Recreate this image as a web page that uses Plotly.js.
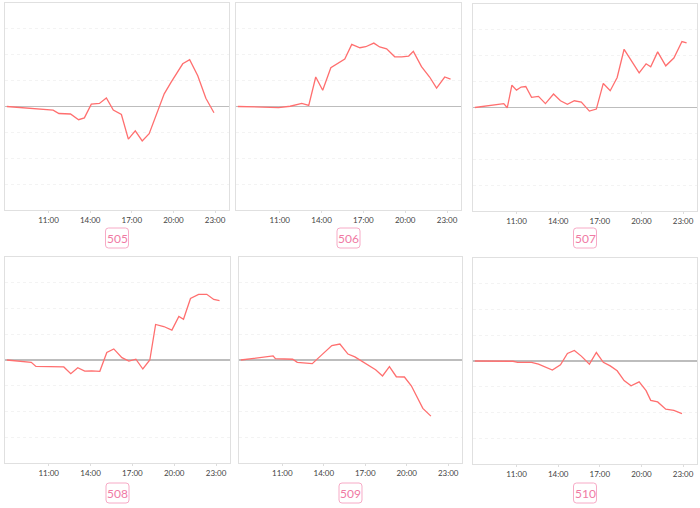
<!DOCTYPE html>
<html><head><meta charset="utf-8">
<script src="https://cdn.plot.ly/plotly-3.0.1.min.js"></script>
<style>html,body{margin:0;padding:0;background:#fff}#chart{width:700px;height:508px}</style>
</head><body><div id="chart"></div>
<script>
const codes = ["505", "506", "507", "508", "509", "510"];
const tickLabels = ["11:00", "14:00", "17:00", "20:00", "23:00"];

const times505 = ["08:00","10:15","11:20","11:45","12:35","13:10","13:35","14:05","14:40","15:10","15:40","16:15","16:45","17:15","17:45","18:15","18:45","19:20","19:50","20:25","20:40","21:10","21:45","22:20","22:55"];
const values505 = [0,-0.10,-0.14,-0.27,-0.29,-0.51,-0.44,0.09,0.12,0.33,-0.14,-0.31,-1.26,-0.94,-1.33,-1.05,-0.35,0.49,0.94,1.45,1.65,1.81,1.19,0.32,-0.24];

const times506 = ["08:00","10:55","11:45","12:35","13:05","13:35","14:05","14:40","15:40","16:10","16:45","17:10","17:45","18:10","18:40","19:15","19:45","20:15","20:35","21:10","21:45","22:15","22:50","23:15"];
const values506 = [0,-0.04,0.01,0.12,0.04,1.14,0.63,1.50,1.83,2.40,2.27,2.31,2.45,2.30,2.23,1.92,1.92,1.95,2.13,1.54,1.14,0.71,1.14,1.06];

const times507 = ["08:00","10:05","10:20","10:40","11:00","11:20","11:40","12:05","12:35","13:05","13:40","14:10","14:40","15:10","15:40","16:15","16:45","17:15","17:45","18:15","18:45","19:15","19:50","20:20","20:40","21:10","21:45","22:20","22:55","23:15"];
const values507 = [0,0.15,-0.01,0.86,0.67,0.79,0.81,0.39,0.43,0.15,0.52,0.26,0.12,0.26,0.21,-0.14,-0.06,0.93,0.65,1.16,2.25,1.81,1.34,1.69,1.57,2.15,1.61,1.91,2.55,2.50];

const times508 = ["08:00","09:45","10:05","12:05","12:35","13:05","13:35","14:05","14:40","15:10","15:40","16:15","16:45","17:15","17:45","18:15","18:40","19:15","19:50","20:20","20:40","21:10","21:45","22:20","22:50","23:15"];
const values508 = [0,-0.09,-0.25,-0.27,-0.53,-0.30,-0.43,-0.42,-0.44,0.29,0.43,0.09,-0.04,0.03,-0.35,0,1.38,1.30,1.16,1.69,1.58,2.39,2.55,2.55,2.35,2.31];

const times509 = ["08:00","10:20","10:30","11:45","12:05","13:10","13:50","14:35","15:10","15:45","16:15","16:50","17:15","17:45","18:15","18:45","19:15","19:50","20:20","20:45","21:10","21:45"];
const values509 = [0,0.16,0.05,0.03,-0.09,-0.14,0.19,0.56,0.62,0.23,0.12,-0.08,-0.19,-0.38,-0.62,-0.26,-0.65,-0.66,-1.00,-1.44,-1.88,-2.18];

const times510 = ["08:00","10:45","11:05","12:05","12:35","13:05","13:35","14:10","14:40","15:10","15:40","16:15","16:45","17:15","17:45","18:15","18:45","19:15","19:50","20:20","20:40","21:10","21:45","22:20","22:55"];
const values510 = [0,-0.01,-0.05,-0.05,-0.12,-0.24,-0.35,-0.15,0.29,0.41,0.19,-0.12,0.33,-0.05,-0.19,-0.38,-0.76,-0.96,-0.81,-1.15,-1.53,-1.59,-1.87,-1.92,-2.04];

const allTimes = [times505, times506, times507, times508, times509, times510];
const allValues = [values505, values506, values507, values508, values509, values510];

const W = 700, H = 508;
// panel pixel boxes [left, right, top, bottom]
const boxes = [
  [5, 229, 3, 210], [236, 461, 3, 210], [473, 697, 4, 211],
  [5, 230, 257, 463], [239, 462, 257, 463], [473, 697, 258, 464]
];
const day = "2024-01-01 ";
const toDate = t => day + t;

const data = [];
const layout = {
  width: W, height: H,
  margin: {l: 0, r: 0, t: 0, b: 0},
  paper_bgcolor: "#fff", plot_bgcolor: "#fff",
  showlegend: false,
  shapes: [], annotations: []
};

codes.forEach((code, i) => {
  const n = i + 1;
  const xa = "xaxis" + (n === 1 ? "" : n), ya = "yaxis" + (n === 1 ? "" : n);
  const [l, r, t, b] = boxes[i];
  data.push({
    type: "scatter", mode: "lines",
    x: allTimes[i].map(toDate), y: allValues[i],
    xaxis: "x" + (n === 1 ? "" : n), yaxis: "y" + (n === 1 ? "" : n),
    line: {color: "#ff6f6f", width: 1.3},
    hoverinfo: "x+y"
  });
  layout[xa] = {
    type: "date",
    domain: [l / W, r / W],
    anchor: "y" + (n === 1 ? "" : n),
    range: [day + "07:52", "2024-01-02 00:00"],
    tickvals: tickLabels.map(toDate),
    ticktext: tickLabels,
    ticks: "outside", ticklen: 2, tickcolor: "#ddd",
    tickfont: {family: "Lato, 'Open Sans', sans-serif", size: 8, color: "#444"},
    showgrid: false, zeroline: false,
    showline: true, linecolor: "#e0e0e0", linewidth: 1, mirror: true,
    fixedrange: true
  };
  layout[ya] = {
    domain: [1 - b / H, 1 - t / H],
    anchor: "x" + (n === 1 ? "" : n),
    range: [-4, 4], dtick: 1,
    showticklabels: false,
    showgrid: true, gridcolor: "#f3f3f3", griddash: "dot", gridwidth: 1,
    zeroline: true, zerolinecolor: "#bdbdbd", zerolinewidth: 1.3,
    showline: true, linecolor: "#e0e0e0", linewidth: 1, mirror: true,
    fixedrange: true
  };
  // label box
  const cx = (l + r) / 2;
  const by0 = i < 3 ? 228 : 483, by1 = i < 3 ? 248 : 503;
  const bx0 = cx - 11.5, bx1 = cx + 11.5, rr = 3;
  const px = v => (v / W).toFixed(5), py = v => (1 - v / H).toFixed(5);
  const path = `M ${px(bx0 + rr)},${py(by0)} L ${px(bx1 - rr)},${py(by0)} Q ${px(bx1)},${py(by0)} ${px(bx1)},${py(by0 + rr)} ` +
    `L ${px(bx1)},${py(by1 - rr)} Q ${px(bx1)},${py(by1)} ${px(bx1 - rr)},${py(by1)} ` +
    `L ${px(bx0 + rr)},${py(by1)} Q ${px(bx0)},${py(by1)} ${px(bx0)},${py(by1 - rr)} ` +
    `L ${px(bx0)},${py(by0 + rr)} Q ${px(bx0)},${py(by0)} ${px(bx0 + rr)},${py(by0)} Z`;
  layout.shapes.push({type: "path", xref: "paper", yref: "paper", path: path,
    line: {color: "#f7aac6", width: 1}, fillcolor: "#fff"});
  layout.annotations.push({xref: "paper", yref: "paper", x: cx / W, y: 1 - (by0 + by1) / 2 / H,
    xanchor: "center", yanchor: "middle", showarrow: false, text: code,
    font: {family: "Lato, 'Open Sans', sans-serif", size: 12, color: "#f07aa4"}});
});

Plotly.newPlot("chart", data, layout, {displayModeBar: false, staticPlot: true});
</script>
</body></html>
